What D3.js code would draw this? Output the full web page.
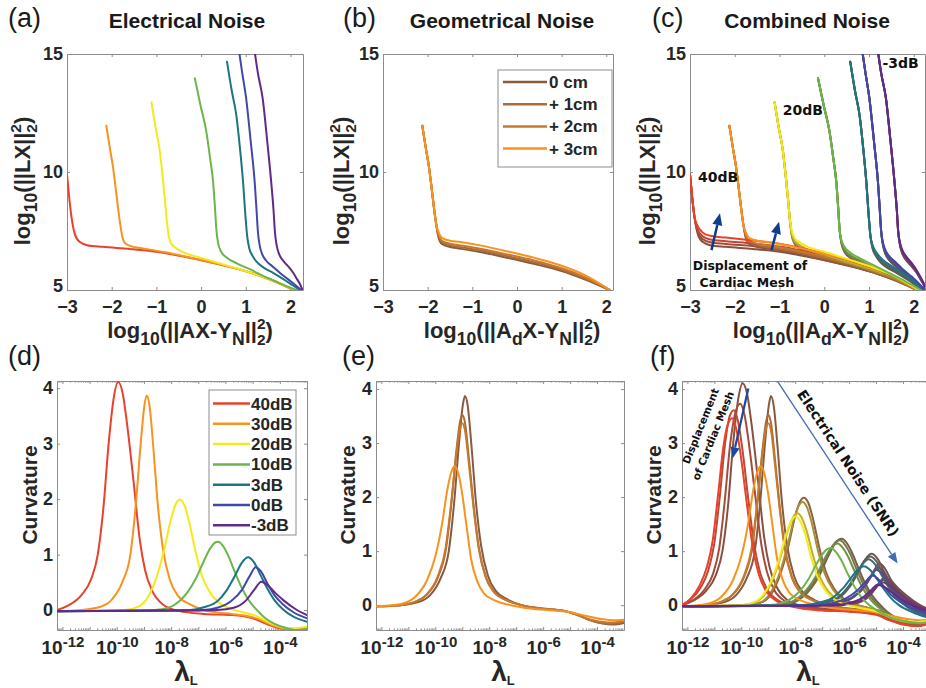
<!DOCTYPE html>
<html>
<head>
<meta charset="utf-8">
<script src="https://cdn.jsdelivr.net/npm/d3@7.9.0/dist/d3.min.js"></script>
<style>
  body { margin: 0; background: #fff; }
  svg { display: block; font-family: "Liberation Sans", Arial, sans-serif; }
</style>
</head>
<body>
<svg id="fig" width="926" height="688"></svg>
<script>
// ---------------- data ----------------
const snrLabels = ['40dB', '30dB', '20dB', '10dB', '3dB', '0dB', '-3dB'];
const dispLabels = ['0 cm', '+ 1cm', '+ 2cm', '+ 3cm'];
const snrColors = ['#e8412c', '#f7931e', '#f3ea1a', '#6cb54b', '#1d7584', '#4048a8', '#612a86'];

const lTicksX = [-3, -2, -1, 0, 1, 2];
const lTicksY = [5, 10, 15];
const cTicksX = [-12, -10, -8, -6, -4];   // exponents of lambda
const cTicksY = [0, 1, 2, 3, 4];

// L-curves: [log10 residual, log10 solution norm]; steep branch per SNR, flat branch per displacement
const lSteep = [
  [[-3.0, 9.9], [-2.95, 8.9], [-2.9, 8.1]],
  [[-2.12, 11.96], [-2.04, 11.0], [-1.97, 10.2], [-1.91, 9.3], [-1.86, 8.5], [-1.81, 7.8]],
  [[-1.11, 12.95], [-1.02, 11.9], [-0.93, 10.97], [-0.86, 9.8], [-0.81, 8.84], [-0.77, 8.0]],
  [[-0.14, 13.97], [-0.01, 12.8], [0.12, 11.68], [0.2, 10.6], [0.27, 9.55], [0.31, 8.5], [0.34, 7.6]],
  [[0.58, 14.67], [0.69, 13.4], [0.79, 12.38], [0.87, 11.0], [0.94, 9.55], [0.99, 8.2], [1.03, 7.3]],
  [[0.82, 15.5], [0.92, 14.2], [1.01, 13.09], [1.11, 11.3], [1.2, 9.55], [1.24, 8.4], [1.27, 7.5]],
  [[1.17, 15.5], [1.27, 14.2], [1.38, 13.09], [1.48, 11.3], [1.57, 9.55], [1.62, 8.4], [1.65, 7.5]]
];
const lFlat = [
  [
    [[-2.83, 7.4], [-2.72, 7.04], [-2.55, 6.9], [-2.2, 6.83], [-1.6, 6.74], [-1.0, 6.62], [-0.4, 6.42], [0.2, 6.18], [0.8, 5.9], [1.3, 5.62], [1.7, 5.34], [2.06, 5.0]],
    [[-2.83, 7.5], [-2.72, 7.16], [-2.55, 7.02], [-2.2, 6.95], [-1.6, 6.86], [-1.0, 6.73], [-0.4, 6.52], [0.2, 6.27], [0.8, 5.97], [1.3, 5.68], [1.7, 5.38], [2.07, 5.0]],
    [[-2.84, 7.6], [-2.72, 7.28], [-2.55, 7.14], [-2.2, 7.07], [-1.6, 6.97], [-1.0, 6.84], [-0.4, 6.62], [0.2, 6.36], [0.8, 6.04], [1.3, 5.73], [1.7, 5.42], [2.08, 5.0]],
    [[-2.84, 7.75], [-2.72, 7.44], [-2.55, 7.3], [-2.2, 7.22], [-1.6, 7.1], [-1.0, 6.96], [-0.4, 6.73], [0.2, 6.45], [0.8, 6.12], [1.3, 5.79], [1.7, 5.46], [2.09, 5.0]]
  ],
  [
    [[-1.76, 7.25], [-1.68, 6.95], [-1.5, 6.82], [-1.3, 6.76], [-0.8, 6.6], [-0.2, 6.36], [0.4, 6.1], [1.0, 5.8], [1.5, 5.46], [2.07, 5.0]],
    [[-1.76, 7.31], [-1.68, 7.02], [-1.5, 6.89], [-1.3, 6.83], [-0.8, 6.67], [-0.2, 6.43], [0.4, 6.17], [1.0, 5.86], [1.5, 5.51], [2.07, 5.0]],
    [[-1.76, 7.37], [-1.68, 7.09], [-1.5, 6.96], [-1.3, 6.9], [-0.8, 6.74], [-0.2, 6.5], [0.4, 6.24], [1.0, 5.92], [1.5, 5.56], [2.08, 5.0]],
    [[-1.76, 7.47], [-1.68, 7.21], [-1.5, 7.09], [-1.3, 7.04], [-0.8, 6.88], [-0.2, 6.63], [0.4, 6.36], [1.0, 6.03], [1.5, 5.65], [2.08, 5.0]]
  ],
  [
    [[-0.73, 7.35], [-0.67, 6.98], [-0.58, 6.8], [-0.4, 6.6], [0.0, 6.36], [0.5, 6.08], [1.0, 5.8], [1.5, 5.48], [2.1, 5.0]],
    [[-0.73, 7.4], [-0.67, 7.05], [-0.58, 6.87], [-0.4, 6.67], [0.0, 6.43], [0.5, 6.15], [1.0, 5.86], [1.5, 5.53], [2.1, 5.0]],
    [[-0.73, 7.45], [-0.67, 7.11], [-0.58, 6.94], [-0.4, 6.74], [0.0, 6.5], [0.5, 6.21], [1.0, 5.92], [1.5, 5.58], [2.11, 5.0]],
    [[-0.73, 7.53], [-0.67, 7.22], [-0.58, 7.06], [-0.4, 6.86], [0.0, 6.62], [0.5, 6.32], [1.0, 6.01], [1.5, 5.65], [2.11, 5.0]]
  ],
  [
    [[0.38, 7.0], [0.45, 6.62], [0.57, 6.38], [0.8, 6.13], [1.1, 5.87], [1.5, 5.5], [1.8, 5.25], [2.13, 5.0]],
    [[0.38, 7.04], [0.45, 6.68], [0.57, 6.44], [0.8, 6.19], [1.1, 5.92], [1.5, 5.55], [1.8, 5.29], [2.14, 5.0]],
    [[0.38, 7.08], [0.45, 6.74], [0.57, 6.5], [0.8, 6.25], [1.1, 5.97], [1.5, 5.6], [1.8, 5.33], [2.15, 5.0]],
    [[0.38, 7.14], [0.45, 6.83], [0.57, 6.6], [0.8, 6.34], [1.1, 6.05], [1.5, 5.67], [1.8, 5.38], [2.16, 5.0]]
  ],
  [
    [[1.08, 6.75], [1.15, 6.45], [1.24, 6.2], [1.4, 5.95], [1.61, 5.73], [1.85, 5.45], [2.05, 5.2], [2.21, 5.0]],
    [[1.08, 6.79], [1.15, 6.5], [1.24, 6.26], [1.4, 6.0], [1.61, 5.78], [1.85, 5.49], [2.05, 5.23], [2.21, 5.0]],
    [[1.08, 6.83], [1.15, 6.55], [1.24, 6.31], [1.4, 6.06], [1.61, 5.83], [1.85, 5.53], [2.05, 5.26], [2.22, 5.0]],
    [[1.08, 6.89], [1.15, 6.63], [1.24, 6.4], [1.4, 6.14], [1.61, 5.9], [1.85, 5.59], [2.05, 5.3], [2.22, 5.0]]
  ],
  [
    [[1.31, 6.9], [1.36, 6.55], [1.44, 6.28], [1.6, 6.0], [1.76, 5.73], [1.95, 5.45], [2.1, 5.22], [2.24, 5.0]],
    [[1.31, 6.93], [1.36, 6.6], [1.44, 6.33], [1.6, 6.05], [1.76, 5.77], [1.95, 5.49], [2.1, 5.25], [2.24, 5.0]],
    [[1.31, 6.96], [1.36, 6.64], [1.44, 6.38], [1.6, 6.1], [1.76, 5.81], [1.95, 5.52], [2.1, 5.27], [2.25, 5.0]],
    [[1.31, 7.01], [1.36, 6.71], [1.44, 6.46], [1.6, 6.17], [1.76, 5.87], [1.95, 5.57], [2.1, 5.3], [2.25, 5.0]]
  ],
  [
    [[1.69, 6.9], [1.74, 6.55], [1.82, 6.28], [1.95, 6.0], [2.06, 5.73], [2.15, 5.45], [2.22, 5.22], [2.27, 5.0]],
    [[1.69, 6.93], [1.74, 6.6], [1.82, 6.33], [1.95, 6.05], [2.06, 5.77], [2.15, 5.48], [2.22, 5.24], [2.27, 5.0]],
    [[1.69, 6.96], [1.74, 6.64], [1.82, 6.38], [1.95, 6.09], [2.06, 5.8], [2.15, 5.51], [2.22, 5.26], [2.28, 5.0]],
    [[1.69, 7.01], [1.74, 6.71], [1.82, 6.45], [1.95, 6.15], [2.06, 5.85], [2.15, 5.55], [2.22, 5.29], [2.28, 5.0]]
  ]
];

// curvature: [log10 lambda, curvature], per SNR then per displacement
const curv = [
  [
    [[-12.2, 0], [-11.8, 0.08], [-11.3, 0.27], [-10.95, 0.55], [-10.7, 1.0], [-10.5, 1.8], [-10.3, 3.0], [-10.12, 3.8], [-9.95, 4.11], [-9.78, 3.9], [-9.62, 3.35], [-9.4, 2.4], [-9.15, 1.25], [-8.95, 0.7], [-8.7, 0.35], [-8.3, 0.1], [-7.7, -0.02], [-6.8, -0.07], [-5.8, -0.09], [-5.0, -0.15], [-4.5, -0.25], [-4.0, -0.33], [-3.5, -0.36], [-3.0, -0.31]],
    [[-12.2, 0], [-11.8, 0.09], [-11.35, 0.3], [-11.05, 0.58], [-10.82, 1.05], [-10.62, 1.9], [-10.42, 2.95], [-10.2, 3.6], [-10.04, 3.73], [-9.88, 3.52], [-9.72, 3.0], [-9.5, 2.1], [-9.25, 1.1], [-9.05, 0.62], [-8.8, 0.3], [-8.4, 0.08], [-7.8, -0.03], [-6.8, -0.08], [-5.8, -0.1], [-5.0, -0.16], [-4.5, -0.26], [-4.0, -0.34], [-3.5, -0.37], [-3.0, -0.32]],
    [[-12.2, 0], [-11.9, 0.1], [-11.5, 0.33], [-11.22, 0.65], [-11.0, 1.15], [-10.8, 2.0], [-10.6, 3.0], [-10.43, 3.5], [-10.28, 3.61], [-10.12, 3.4], [-9.95, 2.85], [-9.75, 2.0], [-9.5, 1.05], [-9.3, 0.6], [-9.05, 0.3], [-8.6, 0.08], [-8.0, -0.03], [-7.0, -0.09], [-6.0, -0.11], [-5.0, -0.17], [-4.5, -0.27], [-4.0, -0.35], [-3.5, -0.38], [-3.0, -0.33]],
    [[-12.2, 0], [-11.9, 0.11], [-11.55, 0.36], [-11.28, 0.7], [-11.06, 1.2], [-10.86, 2.05], [-10.66, 2.95], [-10.49, 3.36], [-10.34, 3.46], [-10.18, 3.25], [-10.0, 2.7], [-9.8, 1.9], [-9.55, 1.0], [-9.35, 0.57], [-9.1, 0.28], [-8.7, 0.08], [-8.0, -0.04], [-7.0, -0.1], [-6.0, -0.12], [-5.0, -0.18], [-4.5, -0.28], [-4.0, -0.36], [-3.5, -0.39], [-3.0, -0.34]]
  ],
  [
    [[-12.2, -0.02], [-11.3, 0.0], [-10.6, 0.06], [-10.2, 0.18], [-9.8, 0.5], [-9.5, 1.0], [-9.3, 1.9], [-9.12, 3.0], [-8.98, 3.7], [-8.9, 3.87], [-8.8, 3.7], [-8.65, 2.9], [-8.5, 1.95], [-8.3, 1.1], [-8.05, 0.55], [-7.75, 0.26], [-7.3, 0.1], [-6.8, 0.0], [-6.0, -0.06], [-5.3, -0.1], [-4.8, -0.16], [-4.3, -0.27], [-3.8, -0.34], [-3.4, -0.36], [-3.0, -0.33]],
    [[-12.2, -0.02], [-11.3, 0.0], [-10.7, 0.07], [-10.3, 0.2], [-9.9, 0.52], [-9.6, 1.05], [-9.4, 1.9], [-9.22, 2.85], [-9.08, 3.4], [-9.0, 3.52], [-8.9, 3.38], [-8.75, 2.7], [-8.58, 1.85], [-8.38, 1.05], [-8.12, 0.52], [-7.82, 0.25], [-7.35, 0.09], [-6.8, 0.0], [-6.0, -0.07], [-5.3, -0.1], [-4.8, -0.17], [-4.3, -0.27], [-3.8, -0.33], [-3.4, -0.34], [-3.0, -0.31]],
    [[-12.2, -0.02], [-11.3, 0.0], [-10.72, 0.07], [-10.32, 0.2], [-9.92, 0.52], [-9.62, 1.05], [-9.42, 1.85], [-9.23, 2.75], [-9.09, 3.26], [-9.0, 3.37], [-8.9, 3.24], [-8.75, 2.6], [-8.58, 1.8], [-8.38, 1.02], [-8.12, 0.5], [-7.82, 0.24], [-7.35, 0.09], [-6.8, 0.0], [-6.0, -0.07], [-5.3, -0.1], [-4.8, -0.17], [-4.3, -0.26], [-3.8, -0.31], [-3.4, -0.32], [-3.0, -0.3]],
    [[-12.2, -0.02], [-11.6, 0.0], [-11.2, 0.03], [-10.75, 0.15], [-10.3, 0.47], [-10.0, 0.9], [-9.75, 1.5], [-9.55, 2.15], [-9.38, 2.5], [-9.27, 2.57], [-9.15, 2.45], [-9.0, 2.05], [-8.85, 1.5], [-8.67, 0.85], [-8.45, 0.45], [-8.2, 0.22], [-7.8, 0.09], [-7.2, 0.0], [-6.5, -0.06], [-5.6, -0.1], [-5.0, -0.13], [-4.4, -0.2], [-3.8, -0.26], [-3.4, -0.28], [-3.0, -0.27]]
  ],
  [
    [[-12.2, -0.02], [-10.5, -0.01], [-9.7, 0.0], [-9.2, 0.06], [-8.8, 0.28], [-8.5, 0.65], [-8.25, 1.1], [-8.0, 1.65], [-7.82, 1.92], [-7.68, 1.99], [-7.52, 1.9], [-7.35, 1.62], [-7.1, 1.05], [-6.85, 0.6], [-6.55, 0.3], [-6.2, 0.12], [-5.8, 0.02], [-5.3, -0.05], [-4.9, -0.1], [-4.5, -0.2], [-4.0, -0.3], [-3.5, -0.33], [-3.0, -0.3]],
    [[-12.2, -0.02], [-10.5, -0.01], [-9.75, 0.0], [-9.25, 0.06], [-8.85, 0.28], [-8.55, 0.63], [-8.3, 1.07], [-8.05, 1.58], [-7.87, 1.84], [-7.73, 1.91], [-7.57, 1.82], [-7.4, 1.55], [-7.15, 1.0], [-6.9, 0.58], [-6.6, 0.29], [-6.25, 0.11], [-5.85, 0.02], [-5.3, -0.05], [-4.9, -0.11], [-4.5, -0.21], [-4.0, -0.3], [-3.5, -0.33], [-3.0, -0.3]],
    [[-12.2, -0.02], [-10.7, -0.01], [-9.95, 0.0], [-9.45, 0.06], [-9.05, 0.26], [-8.75, 0.58], [-8.5, 0.97], [-8.25, 1.42], [-8.06, 1.64], [-7.92, 1.7], [-7.76, 1.62], [-7.58, 1.38], [-7.33, 0.9], [-7.08, 0.52], [-6.78, 0.26], [-6.43, 0.1], [-6.0, 0.01], [-5.4, -0.06], [-4.9, -0.12], [-4.5, -0.22], [-4.0, -0.3], [-3.5, -0.33], [-3.0, -0.3]],
    [[-12.2, -0.02], [-10.8, -0.01], [-10.0, 0.0], [-9.5, 0.06], [-9.1, 0.25], [-8.8, 0.56], [-8.55, 0.93], [-8.3, 1.37], [-8.12, 1.58], [-7.98, 1.64], [-7.82, 1.56], [-7.64, 1.33], [-7.4, 0.87], [-7.15, 0.5], [-6.85, 0.25], [-6.5, 0.09], [-6.05, 0.0], [-5.4, -0.07], [-4.9, -0.13], [-4.5, -0.22], [-4.0, -0.29], [-3.5, -0.31], [-3.0, -0.28]]
  ],
  [
    [[-12.2, -0.02], [-9.5, -0.01], [-8.6, 0.0], [-8.1, 0.04], [-7.7, 0.16], [-7.4, 0.32], [-7.1, 0.56], [-6.8, 0.88], [-6.55, 1.12], [-6.4, 1.21], [-6.27, 1.23], [-6.1, 1.16], [-5.9, 0.98], [-5.65, 0.68], [-5.4, 0.4], [-5.15, 0.18], [-4.9, 0.03], [-4.6, -0.12], [-4.2, -0.25], [-3.8, -0.32], [-3.4, -0.36], [-3.0, -0.34]],
    [[-12.2, -0.02], [-9.5, -0.01], [-8.65, 0.0], [-8.17, 0.04], [-7.77, 0.16], [-7.47, 0.31], [-7.17, 0.55], [-6.87, 0.86], [-6.62, 1.09], [-6.47, 1.18], [-6.34, 1.2], [-6.17, 1.13], [-5.97, 0.96], [-5.72, 0.66], [-5.47, 0.39], [-5.22, 0.17], [-4.97, 0.02], [-4.65, -0.12], [-4.2, -0.25], [-3.8, -0.32], [-3.4, -0.35], [-3.0, -0.33]],
    [[-12.2, -0.02], [-9.6, -0.01], [-8.75, 0.0], [-8.25, 0.04], [-7.85, 0.15], [-7.55, 0.3], [-7.25, 0.52], [-6.95, 0.82], [-6.7, 1.04], [-6.55, 1.12], [-6.42, 1.14], [-6.25, 1.07], [-6.05, 0.91], [-5.8, 0.63], [-5.55, 0.37], [-5.3, 0.16], [-5.05, 0.02], [-4.7, -0.12], [-4.25, -0.25], [-3.8, -0.31], [-3.4, -0.34], [-3.0, -0.32]],
    [[-12.2, -0.02], [-9.8, -0.01], [-9.0, 0.0], [-8.5, 0.04], [-8.1, 0.14], [-7.8, 0.28], [-7.5, 0.49], [-7.2, 0.77], [-6.95, 0.97], [-6.8, 1.04], [-6.68, 1.06], [-6.5, 0.99], [-6.3, 0.84], [-6.05, 0.58], [-5.8, 0.34], [-5.55, 0.15], [-5.3, 0.02], [-4.9, -0.12], [-4.4, -0.24], [-3.9, -0.3], [-3.4, -0.33], [-3.0, -0.31]]
  ],
  [
    [[-12.2, -0.02], [-8.5, -0.01], [-7.3, 0.0], [-6.8, 0.05], [-6.3, 0.16], [-5.95, 0.36], [-5.65, 0.62], [-5.4, 0.85], [-5.17, 0.95], [-4.95, 0.86], [-4.7, 0.62], [-4.45, 0.38], [-4.2, 0.18], [-3.9, 0.02], [-3.5, -0.12], [-3.0, -0.21]],
    [[-12.2, -0.02], [-8.5, -0.01], [-7.35, 0.0], [-6.85, 0.05], [-6.35, 0.16], [-6.0, 0.35], [-5.7, 0.59], [-5.45, 0.81], [-5.22, 0.9], [-5.0, 0.82], [-4.75, 0.59], [-4.5, 0.36], [-4.25, 0.17], [-3.95, 0.02], [-3.5, -0.13], [-3.0, -0.22]],
    [[-12.2, -0.02], [-8.6, -0.01], [-7.4, 0.0], [-6.9, 0.05], [-6.4, 0.15], [-6.05, 0.33], [-5.75, 0.56], [-5.5, 0.76], [-5.28, 0.85], [-5.06, 0.77], [-4.8, 0.56], [-4.55, 0.34], [-4.3, 0.16], [-4.0, 0.02], [-3.5, -0.14], [-3.0, -0.23]],
    [[-12.2, -0.02], [-8.8, -0.01], [-7.6, 0.0], [-7.1, 0.05], [-6.6, 0.14], [-6.25, 0.3], [-5.95, 0.49], [-5.7, 0.65], [-5.45, 0.72], [-5.22, 0.65], [-4.95, 0.47], [-4.7, 0.29], [-4.45, 0.13], [-4.15, 0.0], [-3.6, -0.14], [-3.0, -0.24]]
  ],
  [
    [[-12.2, -0.02], [-8.0, -0.01], [-6.8, 0.0], [-6.3, 0.04], [-5.8, 0.16], [-5.4, 0.36], [-5.1, 0.62], [-4.89, 0.77], [-4.7, 0.7], [-4.45, 0.47], [-4.2, 0.27], [-3.9, 0.11], [-3.5, -0.04], [-3.0, -0.15]],
    [[-12.2, -0.02], [-8.0, -0.01], [-6.85, 0.0], [-6.35, 0.04], [-5.85, 0.15], [-5.45, 0.33], [-5.15, 0.56], [-4.95, 0.7], [-4.76, 0.64], [-4.5, 0.43], [-4.25, 0.25], [-3.95, 0.1], [-3.5, -0.05], [-3.0, -0.16]],
    [[-12.2, -0.02], [-8.1, -0.01], [-6.9, 0.0], [-6.4, 0.04], [-5.9, 0.14], [-5.5, 0.31], [-5.2, 0.52], [-5.0, 0.65], [-4.8, 0.6], [-4.55, 0.4], [-4.3, 0.23], [-4.0, 0.09], [-3.5, -0.06], [-3.0, -0.17]],
    [[-12.2, -0.02], [-8.3, -0.01], [-7.1, 0.0], [-6.6, 0.04], [-6.1, 0.13], [-5.7, 0.27], [-5.38, 0.44], [-5.15, 0.55], [-4.95, 0.5], [-4.7, 0.34], [-4.45, 0.19], [-4.1, 0.06], [-3.6, -0.07], [-3.0, -0.18]]
  ],
  [
    [[-12.2, -0.02], [-7.5, -0.01], [-6.3, 0.0], [-5.7, 0.04], [-5.25, 0.17], [-4.95, 0.36], [-4.68, 0.51], [-4.45, 0.45], [-4.15, 0.3], [-3.85, 0.17], [-3.4, 0.01], [-3.0, -0.09]],
    [[-12.2, -0.02], [-7.5, -0.01], [-6.35, 0.0], [-5.75, 0.04], [-5.3, 0.16], [-5.0, 0.33], [-4.74, 0.47], [-4.5, 0.42], [-4.2, 0.28], [-3.9, 0.15], [-3.45, 0.0], [-3.0, -0.1]],
    [[-12.2, -0.02], [-7.6, -0.01], [-6.4, 0.0], [-5.8, 0.04], [-5.35, 0.15], [-5.05, 0.3], [-4.8, 0.43], [-4.55, 0.38], [-4.25, 0.26], [-3.95, 0.14], [-3.5, -0.01], [-3.0, -0.11]],
    [[-12.2, -0.02], [-7.8, -0.01], [-6.6, 0.0], [-6.0, 0.04], [-5.5, 0.14], [-5.2, 0.27], [-4.95, 0.38], [-4.7, 0.34], [-4.4, 0.23], [-4.1, 0.12], [-3.6, -0.02], [-3.0, -0.12]]
  ]
];

// ---------------- drawing ----------------
const svg = d3.select('#fig');
const INK = '#262626';
const FRAME = '#8c8c8c';
const BROWN = '#7b5244';
const mixT = [0.12, 0.38, 0.6, 1];
const mixColor = (g, d) => d3.interpolateRgb(BROWN, snrColors[g])(mixT[d]);
const MINUS = '\u2212';
const num = v => (v < 0 ? MINUS + (-v) : String(v));

const boxA = { l: 67, r: 303, t: 54, b: 290 };
const boxB = { l: 383, r: 613, t: 54, b: 290 };
const boxC = { l: 690, r: 925, t: 54, b: 290 };
const boxD = { l: 57, r: 307, t: 381, b: 630 };
const boxE = { l: 376, r: 624, t: 381, b: 630 };
const boxF = { l: 682, r: 930, t: 381, b: 630 };

const xA = d3.scaleLinear().domain([-3, 2.28]).range([boxA.l, boxA.r]);
const xB = d3.scaleLinear().domain([-3, 2.15]).range([boxB.l, boxB.r]);
const xC = d3.scaleLinear().domain([-3, 2.25]).range([boxC.l, boxC.r]);
const yL = d3.scaleLinear().domain([5, 15]).range([290, 54]);
const logDom = [10 ** -12.2, 1e-3];
const xD = d3.scaleLog().domain(logDom).range([boxD.l, boxD.r]);
const xE = d3.scaleLog().domain(logDom).range([boxE.l, boxE.r]);
const xF = d3.scaleLog().domain(logDom).range([boxF.l, boxF.r]);
const yD = d3.scaleLinear().domain([-0.36, 4.13]).range([630, 381]);
const yE = d3.scaleLinear().domain([-0.46, 4.15]).range([630, 381]);

let nClip = 0;
function frame(box, x, y, xTicks, yTicks, logX) {
  const g = svg.append('g');
  const id = 'clip' + nClip++;
  g.append('clipPath').attr('id', id).append('rect')
    .attr('x', box.l).attr('y', box.t).attr('width', box.r - box.l).attr('height', box.b - box.t);
  const tidy = sel => {
    sel.attr('font-size', null).attr('font-family', null);
    sel.selectAll('.domain, .tick line').attr('stroke', FRAME);
    sel.selectAll('.tick text').attr('fill', INK).attr('font-weight', 'bold').attr('font-size', 18);
  };
  const major = logX ? d3.range(-12, -2).map(e => 10 ** e) : xTicks;
  const bottom = g.append('g').attr('transform', `translate(0,${box.b})`)
    .call(d3.axisBottom(x).tickValues(major).tickSizeInner(-3).tickSizeOuter(0).tickPadding(10)
      .tickFormat(logX ? () => '' : num))
    .call(tidy);
  g.append('g').attr('transform', `translate(0,${box.t})`)
    .call(d3.axisTop(x).tickValues(major).tickSizeInner(-3).tickSizeOuter(0).tickFormat(''))
    .call(tidy);
  const left = g.append('g').attr('transform', `translate(${box.l},0)`)
    .call(d3.axisLeft(y).tickValues(yTicks).tickSizeInner(-3).tickSizeOuter(0).tickPadding(4).tickFormat(num))
    .call(tidy);
  // lowest label sits just above the corner so it clears the first x label
  left.selectAll('.tick text').filter(v => y(v) > box.b - 1).attr('dy', '0.1em');
  g.append('g').attr('transform', `translate(${box.r},0)`)
    .call(d3.axisRight(y).tickValues(yTicks).tickSizeInner(-3).tickSizeOuter(0).tickFormat(''))
    .call(tidy);

  if (logX) {
    bottom.selectAll('.tick').each(function (v) {
      const e = Math.round(Math.log10(v));
      const t = d3.select(this).select('text');
      if (!xTicks.includes(e)) { t.remove(); return; }
      t.attr('dy', null).attr('y', 24).text(null);
      t.append('tspan').attr('font-size', 19).text('10');
      t.append('tspan').attr('font-size', 15).attr('dy', -7).text(e);
    });
    const minor = [];
    for (let e = -13; e <= -4; e++) {
      for (let k = 2; k <= 9; k++) {
        const v = k * 10 ** e;
        if (v > logDom[0] && v < logDom[1]) minor.push(v);
      }
    }
    [[box.b, -1.6], [box.t, 1.6]].forEach(([yy, len]) => {
      g.append('g').selectAll('line').data(minor).join('line')
        .attr('x1', d => x(d)).attr('x2', d => x(d))
        .attr('y1', yy).attr('y2', yy + len)
        .attr('stroke', FRAME).attr('stroke-width', 1);
    });
  }
  return g.append('g').attr('clip-path', `url(#${id})`);
}

function rich(parent, segs, size) {
  const t = parent.append('text').attr('font-weight', 'bold').attr('fill', INK)
    .attr('font-size', size).attr('text-anchor', 'middle');
  let base = 0;
  segs.forEach(([str, kind]) => {
    let off = 0, fs = size, dx = null;
    if (kind === 'sub') { off = size * 0.3; fs = size * 0.8; }
    if (kind === 'sup') { off = -size * 0.42; fs = size * 0.7; }
    if (kind === 'low') { off = size * 0.34; fs = size * 0.7; dx = -size * 0.7 * 0.556; }
    t.append('tspan').attr('font-size', fs).attr('dy', off - base).attr('dx', dx).text(str);
    base = off;
  });
  return t;
}

const lLine = x => d3.line().x(d => x(d[0])).y(d => yL(d[1])).curve(d3.curveMonotoneX);
const cLine = (x, y) => d3.line().x(d => x(10 ** d[0])).y(d => y(d[1])).curve(d3.curveMonotoneX);

function stroke(g, path, color) {
  g.append('path').attr('d', path).attr('fill', 'none').attr('stroke', color)
    .attr('stroke-width', 2).attr('stroke-linejoin', 'round').attr('stroke-linecap', 'round');
}

// (a) electrical noise L-curves
const pA = frame(boxA, xA, yL, lTicksX, lTicksY, false);
lSteep.forEach((s, g) => stroke(pA, lLine(xA)(s.concat(lFlat[g][0])), snrColors[g]));

// (b) geometrical noise L-curves (30 dB)
const pB = frame(boxB, xB, yL, lTicksX, lTicksY, false);
lFlat[1].forEach((f, d) => stroke(pB, lLine(xB)(lSteep[1].concat(f)), mixColor(1, d)));

// (c) combined
const pC = frame(boxC, xC, yL, lTicksX, lTicksY, false);
d3.range(4).forEach(d => lSteep.forEach((s, g) => stroke(pC, lLine(xC)(s.concat(lFlat[g][d])), mixColor(g, d))));

// (d) electrical noise curvature
const pD = frame(boxD, xD, yD, cTicksX, cTicksY, true);
curv.forEach((c, g) => stroke(pD, cLine(xD, yD)(c[0]), snrColors[g]));

// (e) geometrical noise curvature
const pE = frame(boxE, xE, yE, cTicksX, cTicksY, true);
curv[1].forEach((c, d) => stroke(pE, cLine(xE, yE)(c), mixColor(1, d)));

// (f) combined curvature
const pF = frame(boxF, xF, yE, cTicksX, cTicksY, true);
d3.range(4).forEach(d => curv.forEach((c, g) => stroke(pF, cLine(xF, yE)(c[d]), mixColor(g, d))));

// legends
const legB = svg.append('g');
legB.append('rect').attr('x', 498).attr('y', 70).attr('width', 114).attr('height', 97)
  .attr('fill', '#fff').attr('stroke', FRAME);
dispLabels.forEach((lab, d) => {
  const yy = 82 + d * 22.2;
  legB.append('line').attr('x1', 503).attr('x2', 547).attr('y1', yy).attr('y2', yy)
    .attr('stroke', mixColor(1, d)).attr('stroke-width', 2.5);
  legB.append('text').attr('x', 549).attr('y', yy + 6).attr('font-size', 17).attr('font-weight', 'bold')
    .attr('fill', INK).text(lab);
});
const legD = svg.append('g');
legD.append('rect').attr('x', 209).attr('y', 390).attr('width', 87).attr('height', 145)
  .attr('fill', '#fff').attr('stroke', FRAME);
snrLabels.forEach((lab, g) => {
  const yy = 403.5 + g * 20.3;
  legD.append('line').attr('x1', 213).attr('x2', 250).attr('y1', yy).attr('y2', yy)
    .attr('stroke', snrColors[g]).attr('stroke-width', 2.5);
  legD.append('text').attr('x', 251).attr('y', yy + 6).attr('font-size', 17).attr('font-weight', 'bold')
    .attr('fill', INK).text(lab);
});

// titles and panel letters
[['(a)', 8, 27], ['(b)', 343, 27], ['(c)', 652, 27], ['(d)', 8, 365], ['(e)', 342, 365], ['(f)', 650, 365]]
  .forEach(([t, x, y]) => svg.append('text').attr('x', x).attr('y', y).attr('font-size', 27)
    .attr('fill', '#1a1a1a').text(t));
[['Electrical Noise', 187], ['Geometrical Noise', 502], ['Combined Noise', 807]]
  .forEach(([t, x]) => svg.append('text').attr('x', x).attr('y', 28).attr('text-anchor', 'middle')
    .attr('font-size', 21).attr('font-weight', 'bold').attr('fill', '#1a1a1a').text(t));

// axis labels
const yLab = [['log'], ['10', 'sub'], ['(||LX||'], ['2', 'sup'], ['2', 'low'], [')']];
const xLabA = [['log'], ['10', 'sub'], ['(||AX-Y'], ['N', 'sub'], ['||'], ['2', 'sup'], ['2', 'low'], [')']];
const xLabB = [['log'], ['10', 'sub'], ['(||A'], ['d', 'sub'], ['X-Y'], ['N', 'sub'], ['||'], ['2', 'sup'], ['2', 'low'], [')']];
[30, 349, 655].forEach(x => rich(svg.append('g').attr('transform', `translate(${x},181) rotate(-90)`), yLab, 22));
rich(svg.append('g').attr('transform', 'translate(190,338)'), xLabA, 22);
rich(svg.append('g').attr('transform', 'translate(512,338)'), xLabB, 22);
rich(svg.append('g').attr('transform', 'translate(821,338)'), xLabB, 22);
[37, 355, 661].forEach(x => svg.append('text').attr('transform', `translate(${x},495) rotate(-90)`)
  .attr('text-anchor', 'middle').attr('font-size', 21).attr('font-weight', 'bold').attr('fill', INK).text('Curvature'));
[186, 503, 808].forEach(x => {
  const t = svg.append('text').attr('x', x).attr('y', 681).attr('text-anchor', 'middle')
    .attr('font-weight', 'bold').attr('fill', INK);
  t.append('tspan').attr('font-size', 28).text('\u03bb');
  t.append('tspan').attr('font-size', 13).attr('dy', 4).text('L');
});

// annotations
function arrow(g, x1, y1, x2, y2, color, width, headLen, headW) {
  const a = Math.atan2(y2 - y1, x2 - x1);
  const bx = x2 - headLen * Math.cos(a), by = y2 - headLen * Math.sin(a);
  g.append('line').attr('x1', x1).attr('y1', y1).attr('x2', bx).attr('y2', by)
    .attr('stroke', color).attr('stroke-width', width);
  const px = Math.sin(a) * headW / 2, py = -Math.cos(a) * headW / 2;
  g.append('path').attr('d', `M${x2},${y2}L${bx + px},${by + py}L${bx - px},${by - py}Z`).attr('fill', color);
}
const ann = svg.append('g').attr('font-family', '"DejaVu Sans", Verdana, sans-serif')
  .attr('font-weight', 'bold').attr('fill', '#111');
[['40dB', -2.82, 9.58], ['20dB', -0.93, 12.42], ['-3dB', 1.3, 14.41]]
  .forEach(([t, x, y]) => ann.append('text').attr('x', xC(x)).attr('y', yL(y)).attr('font-size', 14).text(t));
[['Displacement of', -1.66, 5.85], ['Cardiac Mesh', -1.73, 5.13]]
  .forEach(([t, x, y]) => ann.append('text').attr('x', xC(x)).attr('y', yL(y)).attr('text-anchor', 'middle')
    .attr('font-size', 12.5).text(t));
arrow(ann, xC(-2.52), yL(6.69), xC(-2.33), yL(8.25), '#0f3c8c', 2.5, 12, 10);
arrow(ann, xC(-1.18), yL(6.69), xC(-1.01), yL(7.89), '#0f3c8c', 2.5, 12, 10);

[['Displacement', -11.38, 3.29], ['of Cardiac Mesh', -10.92, 3.11]]
  .forEach(([t, x, y]) => ann.append('text')
    .attr('transform', `translate(${xF(10 ** x)},${yE(y)}) rotate(-68)`)
    .attr('text-anchor', 'middle').attr('font-size', 10.5).text(t));
arrow(ann, xF(10 ** -9.74), yE(4.01), xF(10 ** -10.32), yE(2.72), '#1a4aa0', 2.2, 11, 9);
arrow(ann, xF(10 ** -8.65), yE(4.14), xF(10 ** -4.2), yE(0.77), '#3f6db5', 1.3, 11, 9);
ann.append('text').attr('transform', `translate(${xF(10 ** -6.19)},${yE(2.58)}) rotate(56.6)`)
  .attr('text-anchor', 'middle').attr('font-size', 14).text('Electrical Noise (SNR)');
</script>
</body>
</html>
